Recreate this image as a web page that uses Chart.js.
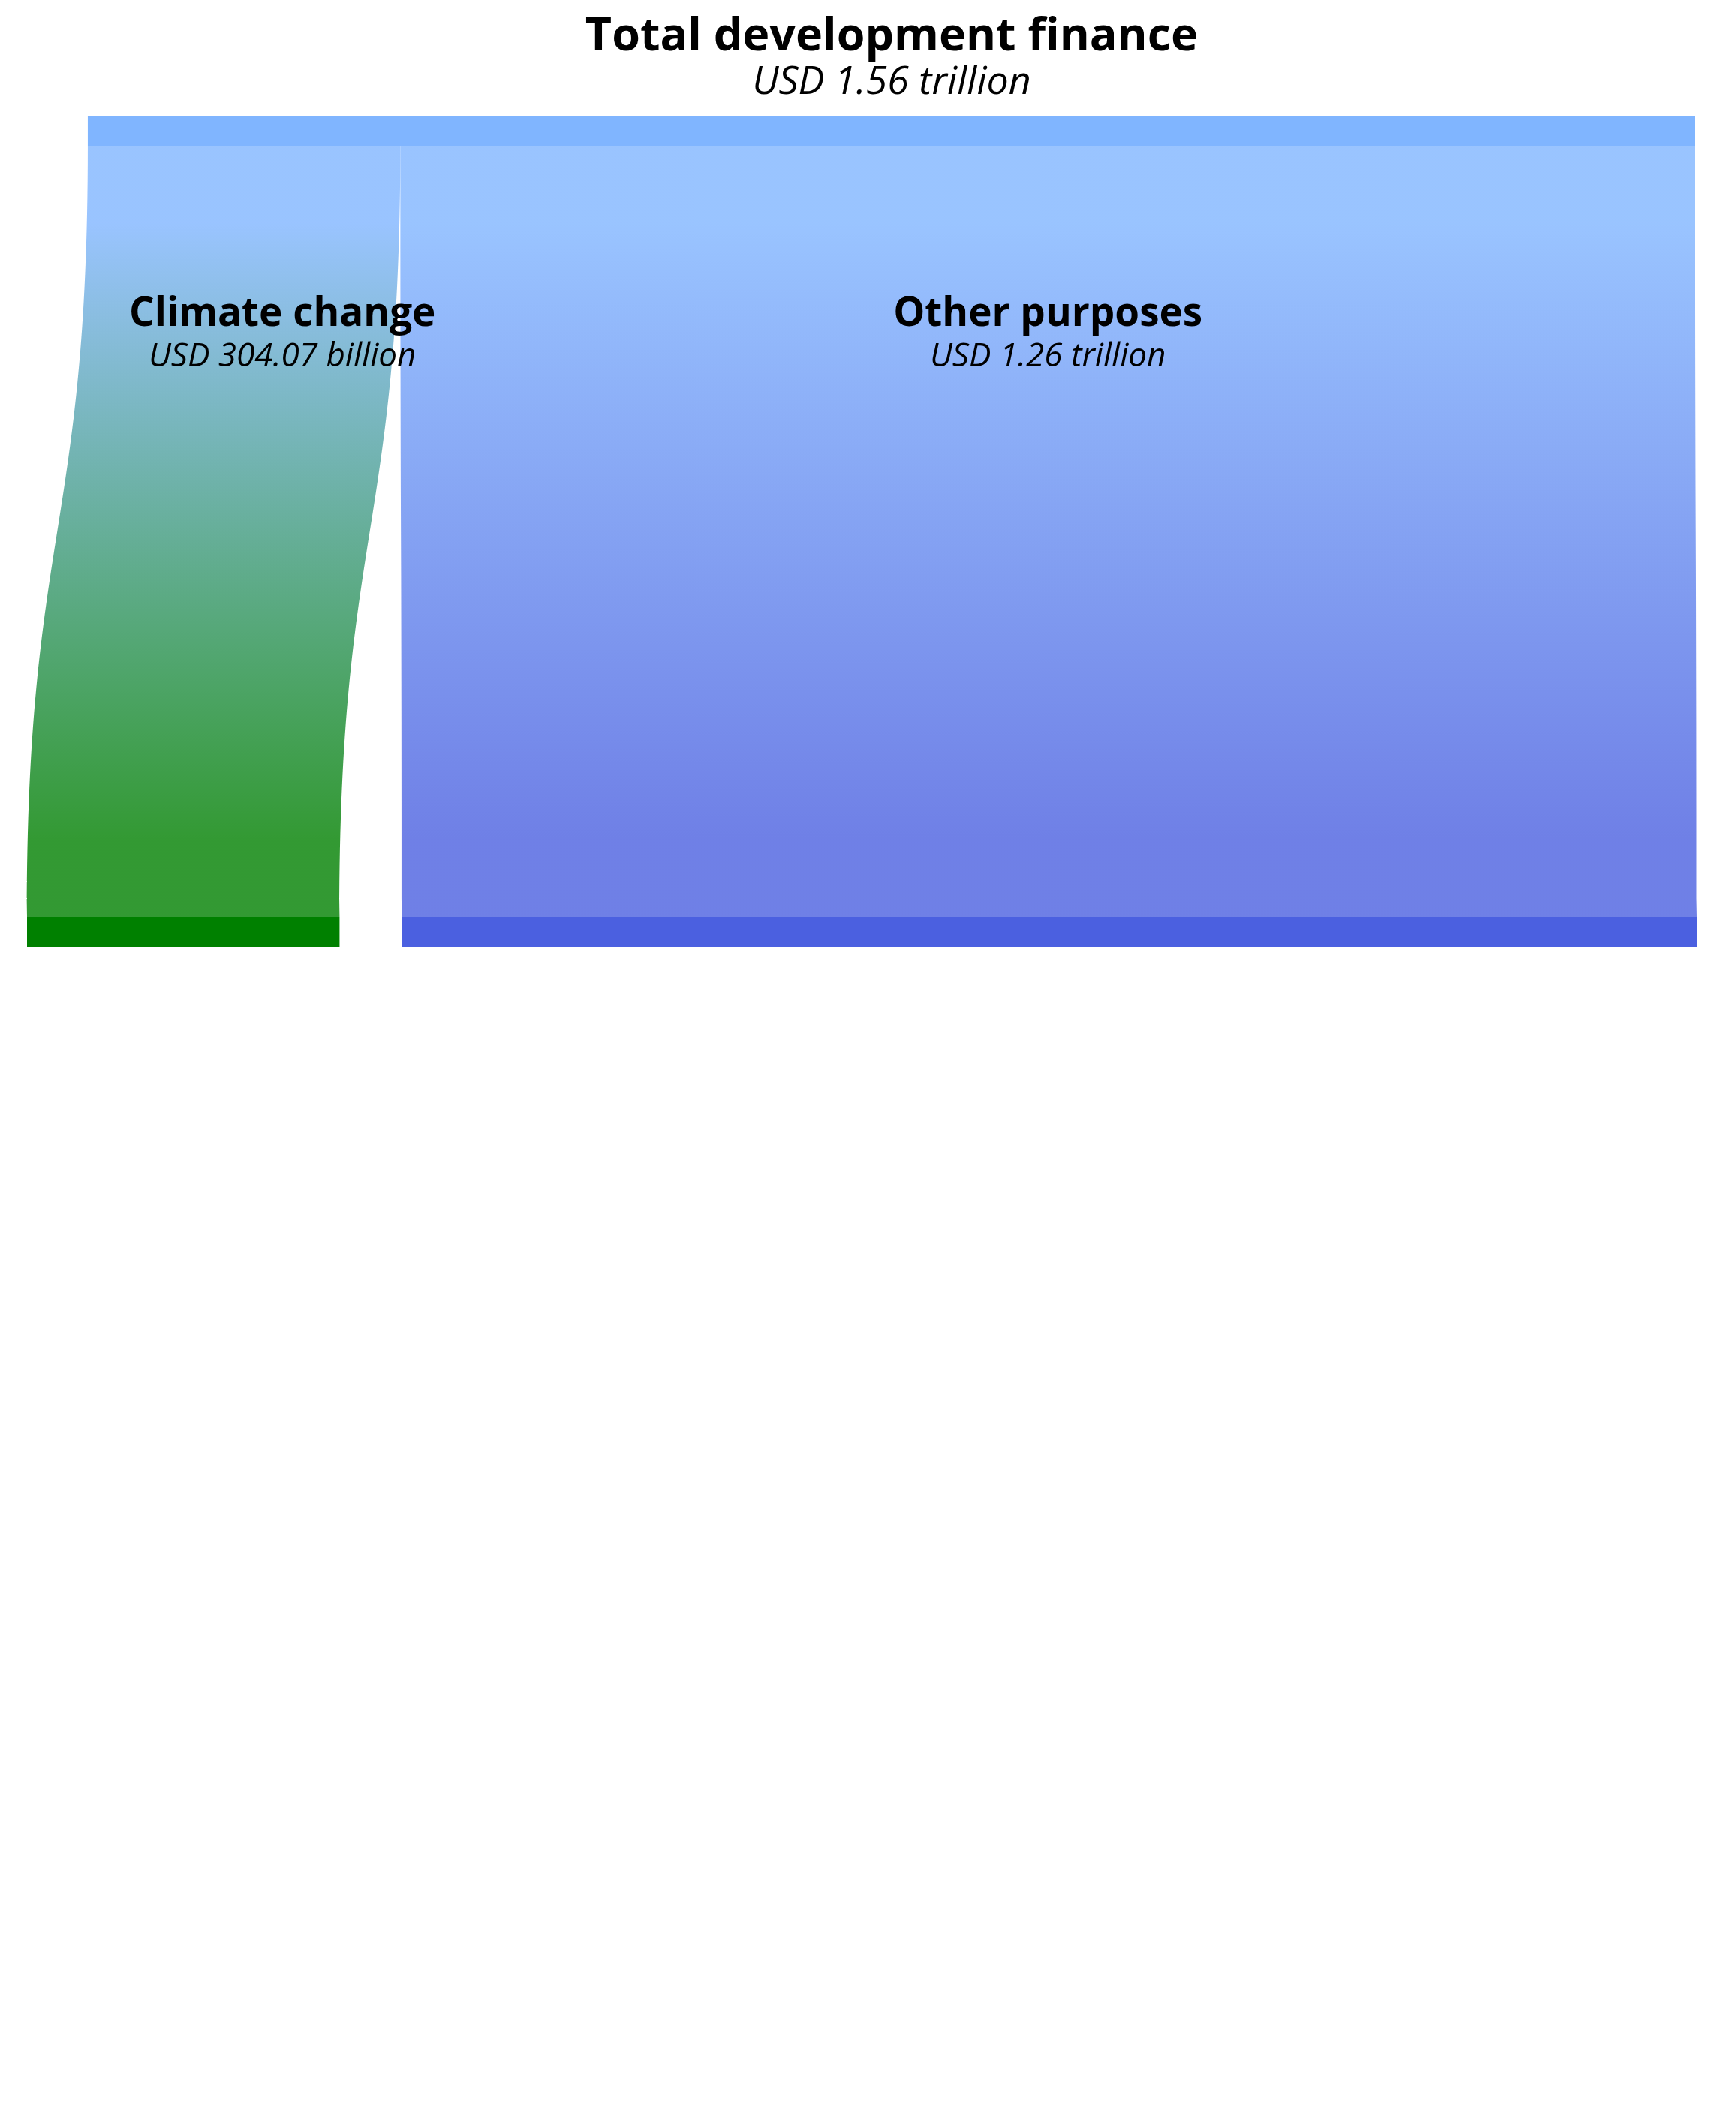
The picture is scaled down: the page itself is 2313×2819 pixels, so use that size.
<!DOCTYPE html>
<html>
<head>
<meta charset="utf-8">
<script src="https://cdn.jsdelivr.net/npm/chart.js@4.4.1/dist/chart.umd.min.js"></script>
<style>
html,body{margin:0;padding:0;background:#fff;}
canvas{display:block;}
</style>
</head>
<body>
<canvas id="c" width="2313" height="2819"></canvas>
<script>
// ---- data ----
const nodeNames = ['Total development finance', 'Climate change', 'Other purposes'];
const nodeValues = [1564.07, 304.07, 1260.0];           // USD billion
const nodeStages = [0, 1, 1];
const nodeValueLabels = ['USD 1.56 trillion', 'USD 304.07 billion', 'USD 1.26 trillion'];
const nodeColors = ['#80b5ff', '#008000', '#4b60e0'];
const linkSources = [0, 0];
const linkTargets = [1, 2];
const linkValues = [304.07, 1260.0];

// ---- layout constants ----
const NODE_PAD = 60.6;     // value units between nodes of the bottom row
const ROW_SHIFT = [0, -59.1];
const NODE_H = 41;
const FONT = '"Open Sans", "Noto Sans", sans-serif';

function layoutNodes() {
  const x0 = [], x1 = [];
  const cursor = ROW_SHIFT.slice();
  nodeValues.forEach((v, i) => {
    const s = nodeStages[i];
    x0[i] = cursor[s];
    x1[i] = cursor[s] + v;
    cursor[s] = x1[i] + NODE_PAD;
  });
  return {x0, x1};
}
const L = layoutNodes();
const xMin = Math.min(...L.x0), xMax = Math.max(...L.x1);

function rgba(hex, a) {
  const n = parseInt(hex.slice(1), 16);
  return `rgba(${(n >> 16) & 255},${(n >> 8) & 255},${n & 255},${a})`;
}

const sankeyPlugin = {
  id: 'sankey',
  afterDatasetsDraw(chart) {
    const ctx = chart.ctx;
    const xs = chart.scales.x, ys = chart.scales.y;
    const px = v => xs.getPixelForValue(v);
    const nodeTop = i => nodeStages[i] === 0 ? ys.getPixelForValue(0) : ys.getPixelForValue(1) - NODE_H;
    const nodeBot = i => nodeTop(i) + NODE_H;
    const outOff = nodeValues.map(() => 0), inOff = nodeValues.map(() => 0);
    const links = linkValues.map((v, k) => {
      const s = linkSources[k], t = linkTargets[k];
      const sx0 = L.x0[s] + outOff[s], sx1 = sx0 + v; outOff[s] += v;
      const tx0 = L.x0[t] + inOff[t], tx1 = tx0 + v; inOff[t] += v;
      return {s, t, sx0, sx1, tx0, tx1};
    });
    ctx.save();
    links.forEach(l => {
      const y0 = nodeBot(l.s), y1 = nodeTop(l.t), ym = (y0 + y1) / 2;
      const g = ctx.createLinearGradient(0, y0, 0, y1);
      g.addColorStop(0, rgba(nodeColors[l.s], 0.8));
      g.addColorStop(0.1, rgba(nodeColors[l.s], 0.8));
      g.addColorStop(0.9, rgba(nodeColors[l.t], 0.8));
      g.addColorStop(1, rgba(nodeColors[l.t], 0.8));
      ctx.beginPath();
      ctx.moveTo(px(l.sx0), y0);
      ctx.bezierCurveTo(px(l.sx0), ym, px(l.tx0), ym, px(l.tx0), y1);
      ctx.lineTo(px(l.tx1), y1);
      ctx.bezierCurveTo(px(l.tx1), ym, px(l.sx1), ym, px(l.sx1), y0);
      ctx.closePath();
      ctx.fillStyle = g;
      ctx.fill();
    });
    nodeValues.forEach((v, i) => {
      ctx.fillStyle = nodeColors[i];
      ctx.fillRect(px(L.x0[i]), nodeTop(i), px(L.x1[i]) - px(L.x0[i]), NODE_H);
    });
    // titles
    ctx.fillStyle = '#000';
    ctx.textAlign = 'center';
    ctx.textBaseline = 'alphabetic';
    const cx0 = (px(L.x0[0]) + px(L.x1[0])) / 2;
    ctx.font = 'bold 61px ' + FONT;
    ctx.fillText(nodeNames[0], cx0, 67);
    ctx.font = 'italic 52px ' + FONT;
    ctx.fillText(nodeValueLabels[0], cx0, 125);
    links.forEach(l => {
      const left = px(l.sx0), right = px(l.sx1);
      ctx.font = 'bold 53px ' + FONT;
      const w = ctx.measureText(nodeNames[l.t]).width;
      let cx = (left + right) / 2;
      cx = Math.max(cx, left + w / 2 + 55);
      ctx.fillText(nodeNames[l.t], cx, 434);
      ctx.font = 'italic 44px ' + FONT;
      ctx.fillText(nodeValueLabels[l.t], cx, 488);
    });
    ctx.restore();
  }
};

new Chart(document.getElementById('c'), {
  type: 'scatter',
  data: { datasets: [{ data: [] }] },
  options: {
    responsive: false,
    devicePixelRatio: 1,
    animation: false,
    layout: { padding: { left: 36, right: 52, top: 154, bottom: 1557 } },
    scales: {
      x: { type: 'linear', display: false, min: xMin, max: xMax },
      y: { type: 'linear', display: false, min: 0, max: 1, reverse: true }
    },
    plugins: { legend: { display: false }, tooltip: { enabled: false }, title: { display: false } }
  },
  plugins: [sankeyPlugin]
});
</script>
</body>
</html>
